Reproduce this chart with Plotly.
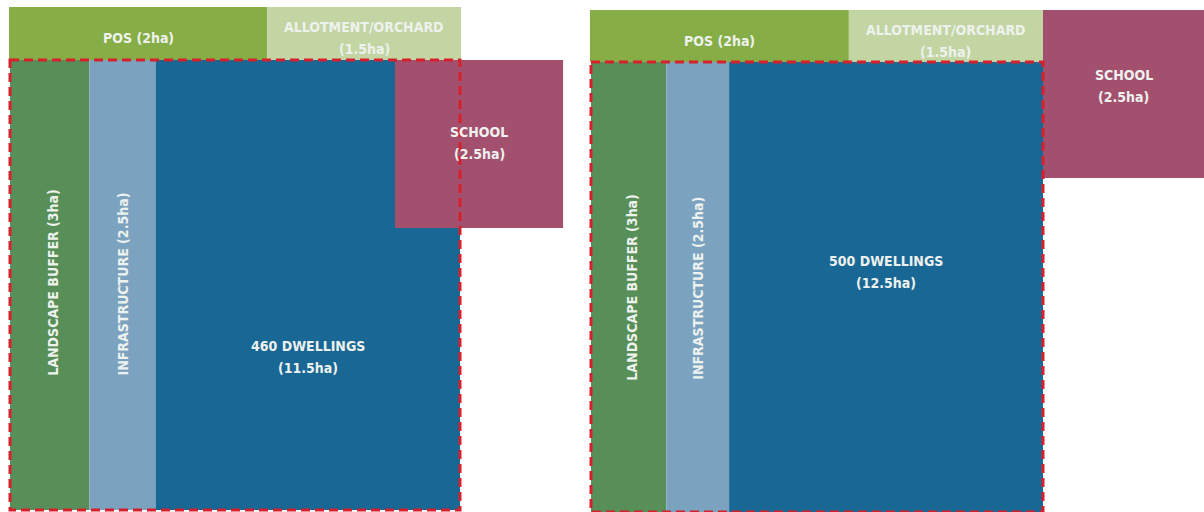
import math
import plotly.graph_objects as go

# ---------------- data ----------------
panels = ["460 dwellings option", "500 dwellings option"]
strip_labels = ["LANDSCAPE BUFFER", "INFRASTRUCTURE", "DWELLINGS"]
strip_ha_left = [3, 2.5, 11.5]
strip_ha_right = [3, 2.5, 12.5]
dwelling_counts = [460, 500]
top_labels = ["POS", "ALLOTMENT/ORCHARD"]
top_ha = [2, 1.5]
school_label = "SCHOOL"
school_ha = 2.5

# ---------------- styles / layout constants ----------------
strip_colors = ["#588f58", "#7ba3c0", "#196795"]
top_colors = ["#87ad46", "#c3d5a3"]
school_color = "#a3506f"
dash_color = "#d7202c"
text_color = "#eef2ee"
FONT = "DejaVu Sans Condensed, Roboto, sans-serif"
FSIZE = 14
LINE_GAP = 22
PX2_PER_HA = 11300.0  # drawing scale for the school square

layouts = [
    dict(box=(10, 60, 450, 450), top=(9, 7, 452, 53), school=(395, 60),
         dwell_ty=357, vert_ty=[282, 284], top_dy=4, school_dy=-1),
    dict(box=(591, 62, 452, 450), top=(590, 10, 453, 52), school=(1043, 10),
         dwell_ty=272, vert_ty=[287, 288], top_dy=5, school_dy=-8),
]
strip_ha_sets = [strip_ha_left, strip_ha_right]


def fmt(v):
    return f"({v:g}ha)"


fig = go.Figure()
shapes = []
annotations = []


def rect(x0, y0, x1, y1, color):
    shapes.append(dict(type="rect", xref="x", yref="y", x0=x0, y0=y0, x1=x1, y1=y1,
                       fillcolor=color, line=dict(width=0), layer="above"))


def label(x, y, text, angle=0, size=FSIZE):
    annotations.append(dict(x=x, y=y, xref="x", yref="y", text=f"<b>{text}</b>",
                            showarrow=False, textangle=angle, align="center",
                            font=dict(family=FONT, size=size, color=text_color)))


def label2(x, y, line1, line2):
    label(x, y - LINE_GAP / 2, line1)
    label(x, y + LINE_GAP / 2, line2)


for i, lay in enumerate(layouts):
    bx, by, bw, bh = lay["box"]
    ha = strip_ha_sets[i]
    total = sum(ha)
    # vertical strips
    x = bx
    centers = []
    for j, v in enumerate(ha):
        w = bw * v / total
        rect(x, by, x + w, by + bh, strip_colors[j])
        centers.append(x + w / 2)
        x += w
    # top band
    tx, ty, tw, th = lay["top"]
    ttot = sum(top_ha)
    x = tx
    for j, v in enumerate(top_ha):
        w = tw * v / ttot
        rect(x, ty, x + w, ty + th, top_colors[j])
        if j == 0:
            label(x + w / 2, ty + th / 2 + lay["top_dy"], f"{top_labels[j]} {fmt(v)}")
        else:
            label2(x + w / 2, ty + th / 2 + lay["top_dy"], top_labels[j], fmt(v))
        x += w
    # school
    sx, sy = lay["school"]
    side = math.sqrt(school_ha * PX2_PER_HA)
    sx1 = min(sx + side, 1204)
    rect(sx, sy, sx1, sy + side, school_color)
    label2((sx + sx1) / 2, sy + side / 2 + lay["school_dy"], school_label, fmt(school_ha))
    # dashed site boundary
    shapes.append(dict(type="rect", xref="x", yref="y", x0=bx, y0=by, x1=bx + bw, y1=by + bh,
                       fillcolor="rgba(0,0,0,0)", layer="above",
                       line=dict(color=dash_color, width=3, dash="9px,5px")))
    # strip labels
    label(centers[0] + 3, lay["vert_ty"][0], f"{strip_labels[0]} {fmt(ha[0])}", angle=-90)
    label(centers[1], lay["vert_ty"][1], f"{strip_labels[1]} {fmt(ha[1])}", angle=-90)
    label2(centers[2], lay["dwell_ty"], f"{dwelling_counts[i]} {strip_labels[2]}", fmt(ha[2]))

fig.update_layout(
    width=1204, height=512,
    margin=dict(l=0, r=0, t=0, b=0),
    paper_bgcolor="white", plot_bgcolor="white",
    xaxis=dict(range=[0, 1204], visible=False, fixedrange=True),
    yaxis=dict(range=[512, 0], visible=False, fixedrange=True),
    shapes=shapes, annotations=annotations, showlegend=False,
)
fig.write_html(
    "out.html",
    config={"displayModeBar": False},
    post_script="document.body.style.margin='0';document.body.style.overflow='hidden';",
)
